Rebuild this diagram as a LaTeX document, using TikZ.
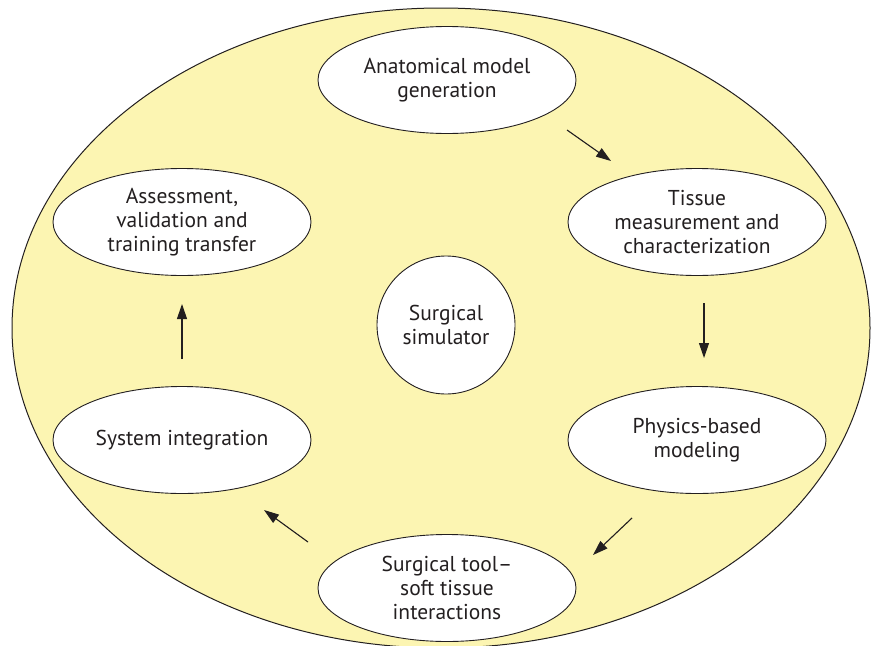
\documentclass[tikz,border=0pt]{standalone}
\usepackage{fontspec}
\setmainfont{PT Sans}
\usetikzlibrary{shapes.geometric,arrows.meta}
\definecolor{padyellow}{RGB}{252,245,178}
\definecolor{inkgray}{RGB}{35,31,32}
\tikzset{
  stage/.style={ellipse, draw=inkgray, fill=white, line width=0.9pt,
    minimum width=258pt, minimum height=107pt, inner sep=0pt,
    align=center, text=inkgray, font=\fontsize{21.5}{24}\selectfont},
  hub/.style={circle, draw=inkgray, fill=white, line width=0.9pt,
    minimum size=138pt, inner sep=0pt,
    align=center, text=inkgray, font=\fontsize{21.5}{24}\selectfont},
  flow/.style={-{Triangle[length=15pt,width=10pt]}, draw=inkgray, fill=inkgray, line width=1.1pt}
}

\begin{document}
\begin{tikzpicture}[x=1pt,y=-1pt]

  \useasboundingbox (0,0) rectangle (875,645);
  \begin{scope}
    \clip (0,0) rectangle (875,645);
    \draw[draw=inkgray, fill=padyellow, line width=1pt] (441,328) ellipse [x radius=429, y radius=320];
  \end{scope}

  \node[hub] (sim) at (446,325) {Surgical\\simulator};

  \node[stage] (anat) at (447,80) {Anatomical model\\generation};
  \node[stage] (tiss) at (697,222) {Tissue\\measurement and\\characterization};
  \node[stage] (phys) at (697,440) {Physics-based\\modeling};
  \node[stage] (tool) at (447,588) {Surgical tool--\\soft tissue\\interactions};
  \node[stage] (sys)  at (182,440) {System integration};
  \node[stage] (assess) at (182,222) {Assessment,\\validation and\\training transfer};

  % short free-standing arrows between the stages
  \coordinate (a1s) at (567,130);
  \coordinate (a1e) at (611,161);
  \coordinate (a2s) at (704,303);
  \coordinate (a2e) at (704,358);
  \coordinate (a3s) at (632,518);
  \coordinate (a3e) at (593,555);
  \coordinate (a4s) at (308,542);
  \coordinate (a4e) at (264,510);
  \coordinate (a5s) at (182,359);
  \coordinate (a5e) at (182,304);

  \draw[flow] (a1s) -- (a1e);
  \draw[flow] (a2s) -- (a2e);
  \draw[flow] (a3s) -- (a3e);
  \draw[flow] (a4s) -- (a4e);
  \draw[flow] (a5s) -- (a5e);

\end{tikzpicture}
\end{document}
